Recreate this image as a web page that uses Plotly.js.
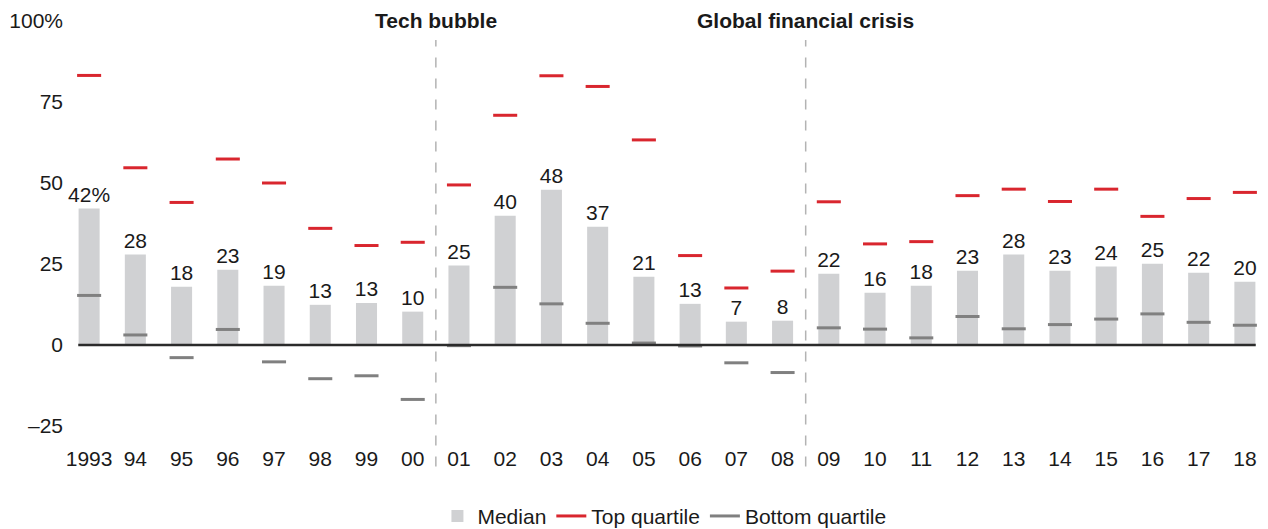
<!DOCTYPE html>
<html>
<head>
<meta charset="utf-8">
<script src="https://cdn.plot.ly/plotly-3.0.1.min.js"></script>
<style>html,body{margin:0;padding:0;background:#fff;}#chart{width:1268px;height:529px;}</style>
</head>
<body>
<div id="chart"></div>
<script>
const years = ['1993','94','95','96','97','98','99','00','01','02','03','04','05','06','07','08','09','10','11','12','13','14','15','16','17','18'];
const median = [42.1, 27.9, 18.0, 23.2, 18.3, 12.4, 13.0, 10.3, 24.5, 39.9, 47.9, 36.5, 21.1, 12.7, 7.2, 7.5, 22.0, 16.1, 18.3, 22.9, 27.9, 22.9, 24.2, 25.1, 22.3, 19.5];
const medianLabels = ['42%','28','18','23','19','13','13','10','25','40','48','37','21','13','7','8','22','16','18','23','28','23','24','25','22','20'];
const topQuartile = [83.2, 54.7, 44.0, 57.4, 50.0, 36.0, 30.7, 31.7, 49.4, 70.9, 83.1, 79.8, 63.3, 27.6, 17.6, 22.8, 44.2, 31.2, 31.9, 46.1, 48.1, 44.3, 48.1, 39.7, 45.2, 47.1];
const bottomQuartile = [15.3, 3.1, -3.9, 4.8, -5.2, -10.4, -9.5, -16.8, -0.2, 17.8, 12.7, 6.7, 0.6, -0.3, -5.5, -8.5, 5.3, 4.9, 2.2, 8.8, 5.0, 6.3, 8.0, 9.6, 7.0, 6.1];
const yTickVals = [-25, 0, 25, 50, 75, 100];
const yTickText = ['\u201325', '0', '25', '50', '75', '100%'];
const events = [{after: '00', text: 'Tech bubble'}, {after: '08', text: 'Global financial crisis'}];

const FONT = 'Liberation Sans, Arial, Helvetica, sans-serif';
const FS = 21;
const idx = years.map((_, i) => i);
const half = 0.26;
function segs(vals) {
  const x = [], y = [];
  vals.forEach((v, i) => { x.push(i - half, i + half, null); y.push(v, v, null); });
  return {x, y};
}
const topSeg = segs(topQuartile);
const botSeg = segs(bottomQuartile);

const traces = [
  {type: 'bar', x: idx, y: median, name: 'Median', width: 0.455,
   marker: {color: '#d0d1d3'}, text: medianLabels, textposition: 'outside',
   constraintext: 'none', cliponaxis: false,
   textfont: {family: FONT, size: FS, color: '#1a1a1a'}, hoverinfo: 'skip'},
  {type: 'scatter', mode: 'lines', x: botSeg.x, y: botSeg.y, name: 'Bottom quartile',
   line: {color: '#808080', width: 3}, connectgaps: false, showlegend: false, hoverinfo: 'skip'},
  {type: 'scatter', mode: 'lines', x: topSeg.x, y: topSeg.y, name: 'Top quartile',
   line: {color: '#d9262e', width: 3}, connectgaps: false, hoverinfo: 'skip'},
  {type: 'scatter', mode: 'lines', x: [null], y: [null], name: 'Bottom quartile',
   line: {color: '#808080', width: 3}, hoverinfo: 'skip'}
];

const shapes = [
  {type: 'line', xref: 'x', yref: 'y', x0: -0.235, x1: years.length - 1 + 0.235, y0: 0, y1: 0,
   line: {color: '#2b2b2b', width: 2.5}, layer: 'above'}
];
const annotations = [];
events.forEach(ev => {
  const xPos = years.indexOf(ev.after) + 0.5;
  shapes.push({type: 'line', xref: 'x', yref: 'paper', x0: xPos, x1: xPos, y0: -0.1, y1: 0.953,
    line: {color: '#b3b3b3', width: 1.5, dash: '10px,11px'}, layer: 'below'});
  annotations.push({xref: 'x', yref: 'paper', x: xPos, y: 1.002, text: '<b>' + ev.text + '</b>',
    showarrow: false, xanchor: 'center', yanchor: 'middle',
    font: {family: FONT, size: FS, color: '#1a1a1a'}});
});

const layout = {
  width: 1268, height: 529,
  margin: {l: 66, r: 0, t: 21, b: 103, pad: 0, autoexpand: false},
  paper_bgcolor: '#fff', plot_bgcolor: '#fff',
  font: {family: FONT, size: FS, color: '#1a1a1a'},
  showlegend: true,
  legend: {orientation: 'h', x: 0.524, xanchor: 'center', xref: 'container', yref: 'container',
    y: 0.024, yanchor: 'middle',
    font: {family: FONT, size: FS, color: '#1a1a1a'}, traceorder: 'normal', itemwidth: 30,
    bgcolor: 'rgba(0,0,0,0)'},
  xaxis: {range: [-0.5, years.length - 0.5], tickvals: idx, ticktext: years,
    showgrid: false, zeroline: false, showline: false, ticks: '', ticklabelstandoff: 18,
    tickfont: {family: FONT, size: FS, color: '#1a1a1a'}, fixedrange: true},
  yaxis: {range: [-25, 100], tickvals: yTickVals, ticktext: yTickText,
    showgrid: false, zeroline: false, showline: false, ticks: '', ticklabelstandoff: 2,
    tickfont: {family: FONT, size: FS, color: '#1a1a1a'}, fixedrange: true},
  shapes: shapes,
  annotations: annotations
};

Plotly.newPlot('chart', traces, layout, {displayModeBar: false, staticPlot: true});
</script>
</body>
</html>
